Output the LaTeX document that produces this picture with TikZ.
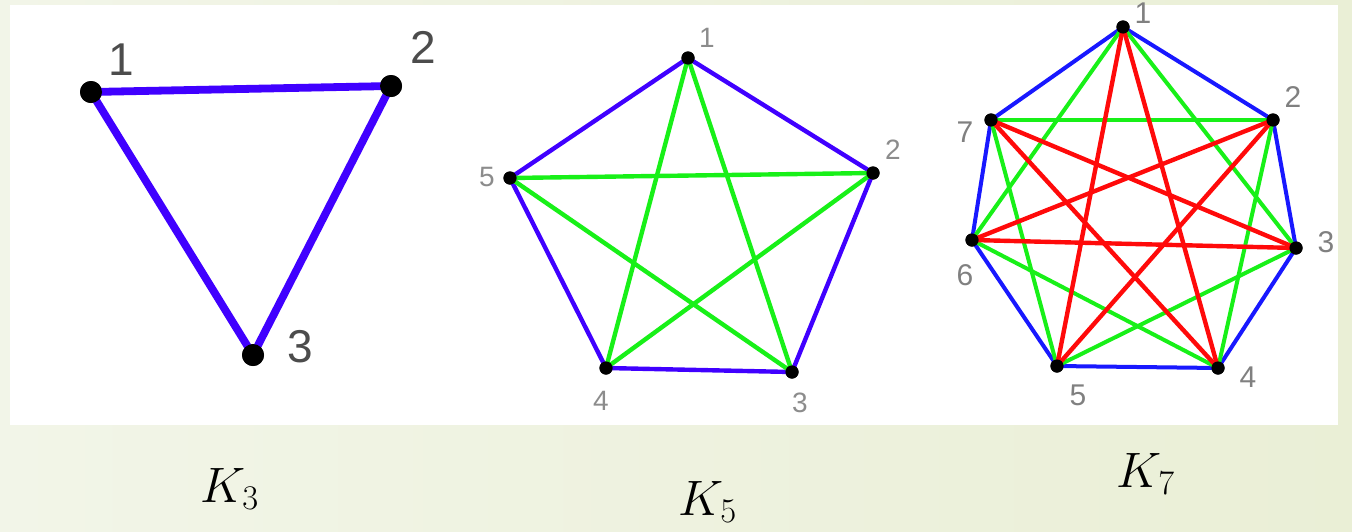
\documentclass[tikz,border=0pt]{standalone}
\usepackage{fontspec}
\newfontfamily\labelfont{Liberation Sans}
\definecolor{edgeviolet}{RGB}{64,0,255}
\definecolor{edgeblue}{RGB}{24,24,255}
\definecolor{edgegreen}{RGB}{24,240,24}
\definecolor{edgered}{RGB}{255,10,10}
\definecolor{bgleft}{RGB}{242,245,232}
\definecolor{bgmid}{RGB}{250,250,245}
\definecolor{bgright}{RGB}{234,239,214}

\tikzset{
  vtx/.style={circle,fill=black,inner sep=0pt,minimum size=#1},
  lbl/.style={font=\fontsize{#1}{#1}\selectfont\labelfont,inner sep=0pt},
  capt/.style={font=\fontsize{25}{30}\selectfont,inner sep=0pt},
}

\begin{document}
\begin{tikzpicture}[x=0.5pt,y=-0.5pt]

% ---- page and white panel ----
\useasboundingbox (0,0) rectangle (1352,531);
\shade[left color=bgleft, middle color=bgmid, right color=bgright]
  (0,0) rectangle (1352,531);
\fill[white] (10,5) rectangle (1338,425);

% ---- K3 ----
\node[vtx=11pt] (k3v1) at (91,92)  {};
\node[vtx=11pt] (k3v2) at (391,86) {};
\node[vtx=11pt] (k3v3) at (253,355) {};
\foreach \a/\b in {1/2,2/3,3/1}
  \draw[edgeviolet, line width=3.9pt] (k3v\a.center) -- (k3v\b.center);
\foreach \i in {1,2,3}
  \fill[black] (k3v\i) circle (5.5pt);
\node[lbl=23, text=black!70] (k3l1) at (121,60)  {1};
\node[lbl=23, text=black!70] (k3l2) at (423,47)  {2};
\node[lbl=23, text=black!70] (k3l3) at (300,347) {3};

% ---- K5 ----
\node[vtx=6.5pt] (k5v1) at (688,58)  {};
\node[vtx=6.5pt] (k5v2) at (873,173) {};
\node[vtx=6.5pt] (k5v3) at (792,372) {};
\node[vtx=6.5pt] (k5v4) at (606,368) {};
\node[vtx=6.5pt] (k5v5) at (510,178) {};
% outer cycle, then the star
\foreach \a/\b in {1/2,2/3,3/4,4/5,5/1}
  \draw[edgeviolet, line width=2.2pt] (k5v\a.center) -- (k5v\b.center);
\foreach \a/\b in {1/3,2/4,3/5,4/1,5/2}
  \draw[edgegreen, line width=2.2pt] (k5v\a.center) -- (k5v\b.center);
\foreach \i in {1,...,5}
  \fill[black] (k5v\i) circle (3.3pt);
\node[lbl=14, text=black!45] (k5l1) at (707,38)  {1};
\node[lbl=14, text=black!45] (k5l2) at (893,150) {2};
\node[lbl=14, text=black!45] (k5l3) at (800,403) {3};
\node[lbl=14, text=black!45] (k5l4) at (601,401) {4};
\node[lbl=14, text=black!45] (k5l5) at (487,177) {5};

% ---- K7 ----
\node[vtx=6.5pt] (k7v1) at (1123,27)  {};
\node[vtx=6.5pt] (k7v2) at (1273,120) {};
\node[vtx=6.5pt] (k7v3) at (1296,248) {};
\node[vtx=6.5pt] (k7v4) at (1218,368) {};
\node[vtx=6.5pt] (k7v5) at (1057,366) {};
\node[vtx=6.5pt] (k7v6) at (972,240)  {};
\node[vtx=6.5pt] (k7v7) at (991,120)  {};
% edges coloured by step round the heptagon: 1 blue, 2 green, 3 red
\foreach \a/\b in {1/2,2/3,3/4,4/5,5/6,6/7,7/1}
  \draw[edgeblue, line width=2pt] (k7v\a.center) -- (k7v\b.center);
\foreach \a/\b in {1/3,2/4,3/5,4/6,5/7,6/1,7/2}
  \draw[edgegreen, line width=2pt] (k7v\a.center) -- (k7v\b.center);
\foreach \a/\b in {1/4,2/5,3/6,4/7,5/1,6/2,7/3}
  \draw[edgered, line width=2.2pt] (k7v\a.center) -- (k7v\b.center);
\foreach \i in {1,...,7}
  \fill[black] (k7v\i) circle (3.3pt);
\node[lbl=15, text=black!50] (k7l1) at (1143,13)  {1};
\node[lbl=15, text=black!50] (k7l2) at (1293,97)  {2};
\node[lbl=15, text=black!50] (k7l3) at (1326,242) {3};
\node[lbl=15, text=black!50] (k7l4) at (1248,377) {4};
\node[lbl=15, text=black!50] (k7l5) at (1078,395) {5};
\node[lbl=15, text=black!50] (k7l6) at (965,275)  {6};
\node[lbl=15, text=black!50] (k7l7) at (965,132)  {7};

% ---- captions ----
\node[capt] (capk3) at (230,489)  {$K_3$};
\node[capt] (capk5) at (708,502)  {$K_5$};
\node[capt] (capk7) at (1146,474) {$K_7$};

\end{tikzpicture}
\end{document}
